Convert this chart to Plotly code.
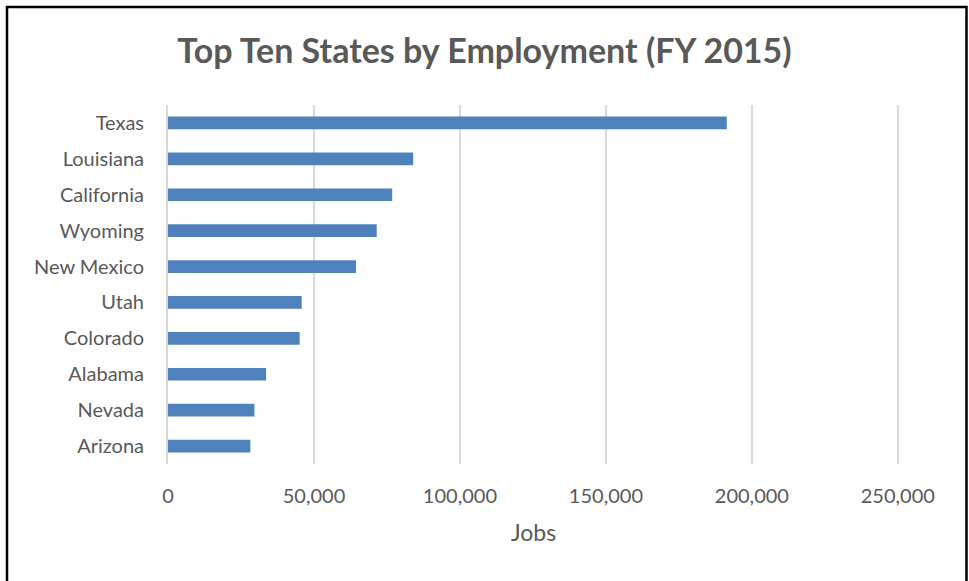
import plotly.graph_objects as go

# Employment by state, FY 2015 (jobs)
states = ["Texas", "Louisiana", "California", "Wyoming", "New Mexico",
          "Utah", "Colorado", "Alabama", "Nevada", "Arizona"]
jobs = [191400, 84000, 76800, 71500, 64400, 45800, 45100, 33600, 29600, 28200]

x_ticks = [0, 50000, 100000, 150000, 200000, 250000]
x_tick_labels = ["0", "50,000", "100,000", "150,000", "200,000", "250,000"]

W, H = 969, 581
ML, MR, MT, MB = 168, 70, 105, 117
TEXT = "#595959"
FONT = "Lato, Calibri, Carlito, sans-serif"

fig = go.Figure(go.Bar(
    x=jobs,
    y=states,
    orientation="h",
    marker=dict(color="#4F81BD", line=dict(width=0)),
))

# outer frame around the whole chart, positioned in pixels
pw, ph = W - ML - MR, H - MT - MB
def px_x(p):
    return (p - ML) / pw
def px_y(p):
    return 1 - (p - MT) / ph

fig.add_shape(type="rect", xref="paper", yref="paper",
              x0=px_x(7), x1=px_x(966.5), y0=px_y(600), y1=px_y(7),
              line=dict(color="black", width=2.5), fillcolor="rgba(0,0,0,0)",
              layer="above")

fig.update_layout(
    width=W, height=H,
    margin=dict(l=ML, r=MR, t=MT, b=MB, pad=0),
    paper_bgcolor="white", plot_bgcolor="white",
    bargap=0.646,
    showlegend=False,
    title=dict(text="<b>Top Ten States by Employment (FY 2015)</b>",
               x=0.5, xref="container", xanchor="center",
               y=1 - 51 / H, yanchor="middle",
               font=dict(family=FONT, size=34, color=TEXT)),
    font=dict(family=FONT, color=TEXT),
    xaxis=dict(
        # a hair past 250,000 so the last gridline is still drawn
        range=[0, 250400],
        tickvals=x_ticks, ticktext=x_tick_labels,
        showgrid=True, gridcolor="#D9D9D9", gridwidth=2,
        zeroline=False, showline=False,
        ticks="", ticklabelstandoff=18,
        tickfont=dict(family=FONT, size=20, color=TEXT),
        title=dict(text="Jobs", standoff=18,
                   font=dict(family=FONT, size=23, color=TEXT)),
    ),
    yaxis=dict(
        categoryorder="array", categoryarray=states[::-1],
        showgrid=False, zeroline=False,
        showline=True, linecolor="#D9D9D9", linewidth=2,
        ticks="", ticklabelstandoff=18,
        tickfont=dict(family=FONT, size=20, color=TEXT),
    ),
)

fig.write_html("out.html")
